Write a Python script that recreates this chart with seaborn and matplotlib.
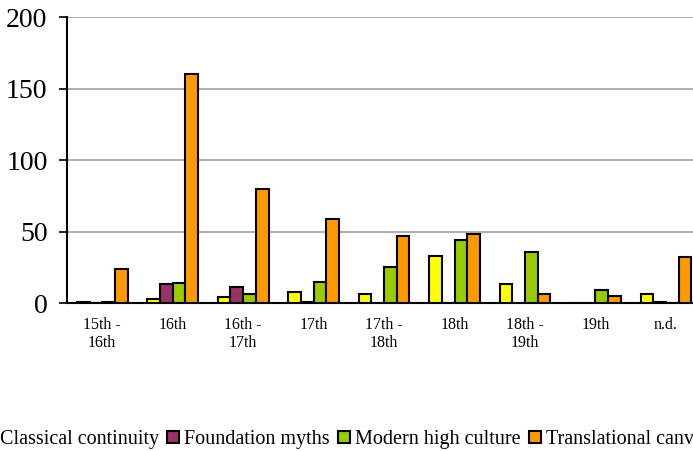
import pandas as pd
import numpy as np
import matplotlib
matplotlib.use("Agg")
import matplotlib.pyplot as plt
import seaborn as sns

# data
periods = ["15th -\n16th", "16th", "16th -\n17th", "17th", "17th -\n18th",
           "18th", "18th -\n19th", "19th", "n.d."]
classical = [1, 3, 4, 8, 6, 33, 13, 0, 6]
foundation = [0, 13, 11, 1, 0, 0, 0, 0, 1]
modern = [1, 14, 6, 15, 25, 44, 36, 9, 0]
translational = [24, 160, 80, 59, 47, 48, 6, 5, 32]
series_names = ["Classical continuity", "Foundation myths",
                "Modern high culture", "Translational canvas"]
colors = ["#FFFF00", "#993366", "#99CC00", "#FF9900"]

# long form dataframe
rows = []
for name, vals in zip(series_names, [classical, foundation, modern, translational]):
    for p, v in zip(periods, vals):
        rows.append({"period": p, "series": name, "count": v})
df = pd.DataFrame(rows)

sns.set_style("white")
plt.rcParams["font.family"] = ["Liberation Serif", "DejaVu Serif"]
plt.rcParams["text.color"] = "black"
plt.rcParams["xtick.color"] = "black"
plt.rcParams["ytick.color"] = "black"

fig = plt.figure(figsize=(6.93, 4.51), dpi=100)
ax = fig.add_axes([0.0967, 0.328, 0.915, 0.634])

sns.barplot(data=df, x="period", y="count", hue="series", palette=colors,
            order=periods, hue_order=series_names, width=0.72, saturation=1,
            edgecolor="black", linewidth=1.5, ax=ax, legend=True, zorder=3)

ax.set_xlim(-0.5, len(periods) - 0.5)
ax.set_ylim(0, 200)
ax.set_yticks([0, 50, 100, 150, 200])
ax.yaxis.grid(True, color="#A0A0A0", linewidth=1.2, zorder=0)
ax.set_axisbelow(True)
ax.set_xlabel("")
ax.set_ylabel("")

# tick marks at category boundaries like Excel
ax.set_xticks(np.arange(-0.5, len(periods), 1), minor=True)
ax.tick_params(axis="x", which="major", length=0, labelsize=11.5, pad=10)
ax.tick_params(axis="x", which="minor", length=6, width=1.2, color="black", direction="out")
ax.tick_params(axis="y", length=6, width=1.2, color="black", direction="out",
               labelsize=20, pad=8, left=True)

for side in ["top", "right"]:
    ax.spines[side].set_visible(False)
for side in ["left", "bottom"]:
    ax.spines[side].set_color("black")
    ax.spines[side].set_linewidth(1.5)

handles, labels = ax.get_legend_handles_labels()
ax.get_legend().remove()
fig.legend(handles, labels, loc="lower center", bbox_to_anchor=(0.5, -0.027),
           ncol=4, frameon=False, fontsize=14.5, handlelength=0.6,
           handleheight=0.6, handletextpad=0.25, columnspacing=0.4,
           borderaxespad=0.3)

fig.savefig("out.png", dpi=100)
